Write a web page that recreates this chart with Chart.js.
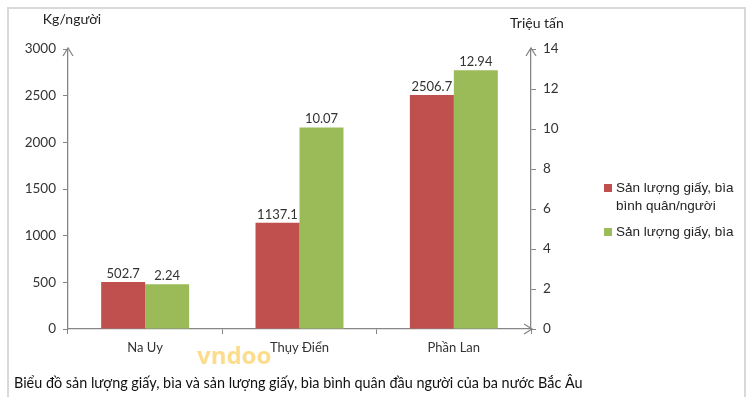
<!DOCTYPE html>
<html>
<head>
<meta charset="utf-8">
<script src="https://cdn.jsdelivr.net/npm/chart.js@4"></script>
<style>
  html, body { margin: 0; padding: 0; background: #fff; }
  #wrap { position: relative; width: 751px; height: 397px; }
  #frame { position: absolute; left: 7px; top: 7px; width: 739px; height: 400px; border: 2px solid #d9d9d9; box-sizing: border-box; pointer-events: none; }
</style>
</head>
<body>
<div id="wrap">
  <canvas id="myChart" width="751" height="397"></canvas>
  <div id="frame"></div>
</div>
<script>
const countries = ['Na Uy', 'Thụy Điển', 'Phần Lan']
const perCapita = [502.7, 1137.1, 2506.7]   // kg/người
const output = [2.24, 10.07, 12.94]         // triệu tấn
const perCapitaLabel = ['Sản lượng giấy, bìa', 'bình quân/người']
const outputLabel = 'Sản lượng giấy, bìa'
const caption = 'Biểu đồ sản lượng giấy, bìa và sản lượng giấy, bìa bình quân đầu người của ba nước Bắc Âu'

const RED = '#c0504d'
const GREEN = '#9bbb59'
const AXIS = '#868686'
const TXT = '#333'
const FONT = 'Lato, "Open Sans", sans-serif'

// values above the bars
const valueLabels = {
  id: 'valueLabels',
  afterDatasetsDraw(chart) {
    const c = chart.ctx
    c.save()
    c.font = '13px ' + FONT
    c.fillStyle = TXT
    c.textAlign = 'center'
    c.textBaseline = 'bottom'
    chart.data.datasets.forEach((ds, i) => {
      chart.getDatasetMeta(i).data.forEach((bar, j) => {
        c.fillText(String(ds.data[j]), bar.x, bar.y - 2)
      })
    })
    c.restore()
  }
}

// arrows, axis titles, legend, caption, watermark
const extras = {
  id: 'extras',
  afterDraw(chart) {
    const c = chart.ctx
    const a = chart.chartArea
    c.save()
    c.strokeStyle = AXIS
    c.lineWidth = 1.3
    const chevron = (x, y, up) => {
      c.beginPath()
      if (up) {
        c.moveTo(x - 5, y + 8); c.lineTo(x, y); c.lineTo(x + 5, y + 8)
      } else {
        c.moveTo(x - 8, y - 5); c.lineTo(x, y); c.lineTo(x - 8, y + 5)
      }
      c.stroke()
    }
    chevron(a.left, a.top - 1, true)
    chevron(a.right, a.top - 1, true)
    chevron(a.right + 1, a.bottom, false)

    // axis titles
    c.fillStyle = '#222'
    c.font = '14px ' + FONT
    c.textAlign = 'center'
    c.textBaseline = 'middle'
    c.fillText('Kg/người', 72, 19)
    c.fillText('Triệu tấn', 537, 23)

    // legend
    c.font = '13.5px "Liberation Sans", Arial, sans-serif'
    c.textAlign = 'left'
    c.fillStyle = RED
    c.fillRect(604, 184, 8, 8)
    c.fillStyle = GREEN
    c.fillRect(604, 228, 8, 8)
    c.fillStyle = '#222'
    c.fillText(perCapitaLabel[0], 616, 188)
    c.fillText(perCapitaLabel[1], 616, 206)
    c.fillText(outputLabel, 616, 232)

    // watermark
    c.font = 'bold 24px "Open Sans", sans-serif'
    c.fillStyle = 'rgba(252, 205, 90, 0.7)'
    c.fillText('vndoo', 197, 357)

    // caption
    c.font = '14.4px ' + FONT
    c.fillStyle = '#111'
    c.fillText(caption, 14, 383)
    c.restore()
  }
}

new Chart(document.getElementById('myChart'), {
  type: 'bar',
  data: {
    labels: countries,
    datasets: [
      {
        label: perCapitaLabel.join(' '),
        data: perCapita,
        backgroundColor: RED,
        yAxisID: 'y',
        categoryPercentage: 0.57,
        barPercentage: 1.0
      },
      {
        label: outputLabel,
        data: output,
        backgroundColor: GREEN,
        yAxisID: 'y1',
        categoryPercentage: 0.57,
        barPercentage: 1.0
      }
    ]
  },
  options: {
    responsive: false,
    animation: false,
    layout: { padding: { top: 49, left: 0, right: 0, bottom: 0 } },
    plugins: {
      legend: { display: false },
      tooltip: { enabled: false }
    },
    scales: {
      x: {
        afterFit: s => { s.height = 68 },
        grid: { drawOnChartArea: false, color: AXIS, tickLength: 5, offset: true },
        border: { color: AXIS, width: 1.3 },
        ticks: { color: TXT, font: { size: 13, family: FONT }, padding: 6 }
      },
      y: {
        position: 'left',
        min: 0,
        max: 3000,
        afterFit: s => { s.width = 68 },
        grid: { drawOnChartArea: false, color: AXIS, tickLength: 5 },
        border: { color: AXIS, width: 1.3 },
        ticks: { stepSize: 500, color: TXT, font: { size: 13.5, family: FONT }, padding: 7, callback: v => String(v) }
      },
      y1: {
        position: 'right',
        min: 0,
        max: 14,
        afterFit: s => { s.width = 220 },
        grid: { drawOnChartArea: false, color: AXIS, tickLength: 5 },
        border: { color: AXIS, width: 1.3 },
        ticks: { stepSize: 2, color: TXT, font: { size: 13.5, family: FONT }, padding: 7, callback: v => String(v) }
      }
    }
  },
  plugins: [valueLabels, extras]
})
</script>
</body>
</html>
